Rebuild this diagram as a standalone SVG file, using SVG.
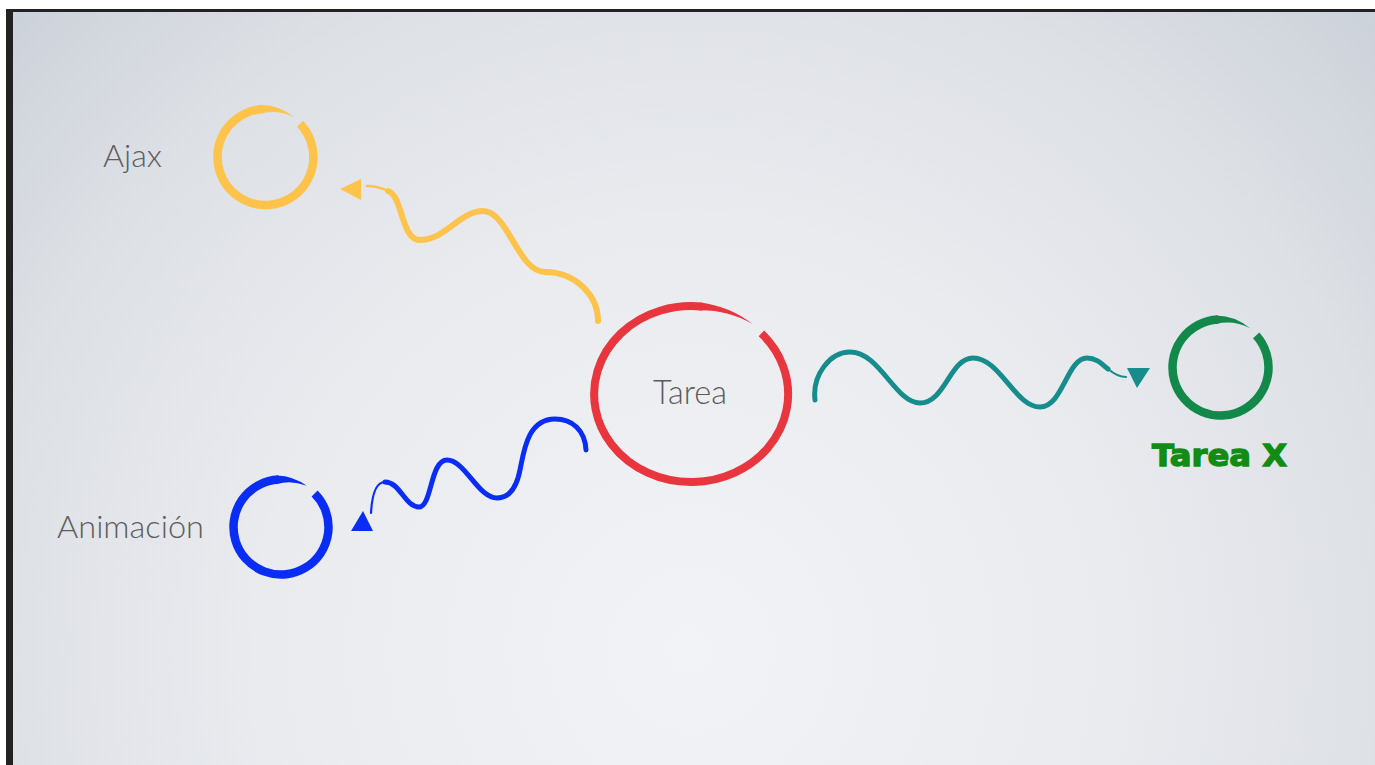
<svg xmlns="http://www.w3.org/2000/svg" width="1375" height="765" viewBox="0 0 1375 765">
<defs>
<radialGradient id="bg" cx="690" cy="650" r="950" gradientUnits="userSpaceOnUse">
<stop offset="0" stop-color="#f2f3f7"/>
<stop offset="0.45" stop-color="#e9ebef"/>
<stop offset="0.75" stop-color="#dde0e5"/>
<stop offset="1" stop-color="#cbd1d9"/>
</radialGradient>
<style>
.lbl{font-family:Lato,"Liberation Sans",sans-serif;font-weight:300;fill:#5c5c5c}
.wave{fill:none;stroke-linecap:round;stroke-linejoin:round}
.ring{fill:none}
</style>
</defs>
<rect x="0" y="0" width="1375" height="765" fill="#ffffff"/>
<rect x="6" y="9" width="1369" height="756" fill="#222222"/>
<rect x="13" y="12" width="1362" height="753" fill="url(#bg)"/>

<g id="connectors">
<g id="c-ajax" stroke="#fdc34a" fill="#fdc34a">
<path class="wave" stroke-width="6" d="M598,321 C598,295 575,272 545,272 C518,272 508,211 483,211 C460,211 445,240 420,240 C401,240 403,196 388,191"/>
<path class="wave" stroke-width="2.5" d="M388,191 C382,188 375,186 367,186"/>
<polygon stroke="none" points="340,189 361,179 361,200"/>
</g>
<g id="c-tareax" stroke="#178c8c" fill="#178c8c">
<path class="wave" stroke-width="5" d="M815,400 C812,375 830,352 850,352 C880,352 895,403 920,403 C945,403 950,358 973,358 C1000,358 1015,407 1040,407 C1063,407 1067,358 1087,358 C1097,358 1103,365 1108,369"/>
<path class="wave" stroke-width="2.2" d="M1108,369 C1114,374 1120,377 1126,377"/>
<polygon stroke="none" points="1127,368 1150,368 1137,388"/>
</g>
<g id="c-anim" stroke="#0a2df5" fill="#0a2df5">
<path class="wave" stroke-width="5" d="M586,450 C585,430 572,419 555,419 C528,419 524,450 520,470 C516,490 508,498 497,498 C478,498 465,460 447,460 C430,460 432,507 419,507 C405,507 400,482 385,482"/>
<path class="wave" stroke-width="2.2" d="M385,482 C376,482 372,495 371,513"/>
<polygon stroke="none" points="351,531 373,531 363,511"/>
</g>
</g>

<g id="node-tarea">
<path class="ring" stroke="#e8353e" stroke-width="8" d="M761.4,333.4 A97,88 0 1 1 702.8,306.7"/>
<path fill="#e8353e" d="M699.5,302.4 A101,92 0 0 1 752.6,324 A96,87 0 0 0 699.5,310.2 Z"/>
<text class="lbl" x="653" y="404" font-size="33" textLength="74" lengthAdjust="spacingAndGlyphs">Tarea</text>
</g>

<g id="node-ajax">
<path class="ring" stroke="#fdc34a" stroke-width="8.5" d="M300,123.7 A48,48 0 1 1 262.99,109.07"/>
<path fill="#fdc34a" d="M261.3,105 A52.25,52.25 0 0 1 293.6,116.9 A48,48 0 0 0 261.3,113.45 Z"/>
<text class="lbl" x="103" y="167" font-size="31" textLength="59" lengthAdjust="spacingAndGlyphs">Ajax</text>
</g>

<g id="node-animacion">
<path class="ring" stroke="#0a2df5" stroke-width="8.5" d="M314.59,493.41 A47.5,47.5 0 1 1 278.51,479.57"/>
<path fill="#0a2df5" d="M276.86,475.45 A51.75,51.75 0 0 1 306.7,485.87 A47.5,47.5 0 0 0 276.86,483.93 Z"/>
<text class="lbl" x="57" y="538" font-size="31" textLength="147" lengthAdjust="spacingAndGlyphs">Animación</text>
</g>

<g id="node-tareax">
<path class="ring" stroke="#12894a" stroke-width="8.5" d="M1256.17,335.38 A48,48 0 1 1 1217.99,319.57"/>
<path fill="#12894a" d="M1216.32,315.45 A52.25,52.25 0 0 1 1249.99,328.37 A48,48 0 0 0 1216.32,323.93 Z"/>
<text x="1152" y="466" font-family="'DejaVu Sans','Liberation Sans',sans-serif" font-weight="bold" font-size="30" fill="#128c12" stroke="#128c12" stroke-width="1.3" textLength="135" lengthAdjust="spacingAndGlyphs">Tarea X</text>
</g>
</svg>
